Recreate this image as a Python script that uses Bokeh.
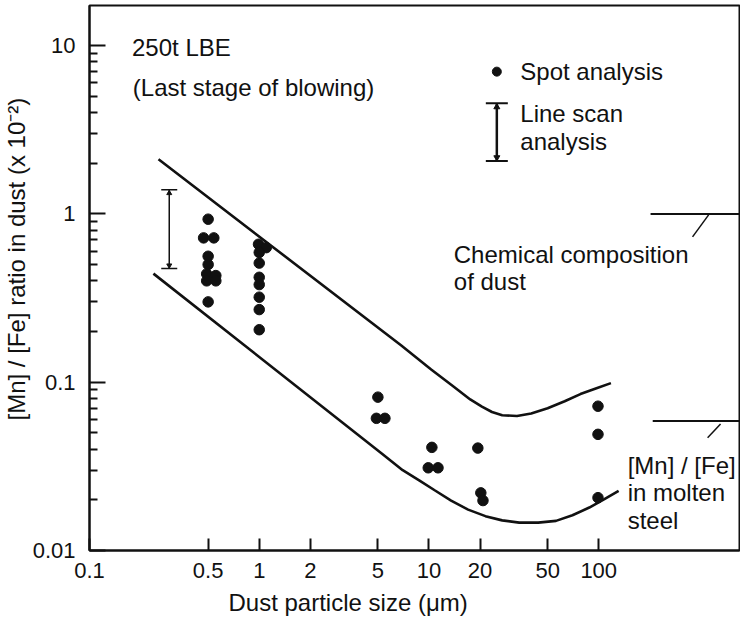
from bokeh.plotting import figure
from bokeh.models import Label, Title, FixedTicker, Range1d, Whisker, ColumnDataSource, TeeHead, CustomJSTickFormatter
from bokeh.embed import file_html
from bokeh.resources import INLINE

# ---- axis ticks ----
x_ticks = [0.1, 0.5, 1, 2, 5, 10, 20, 50, 100]
y_ticks = [0.01, 0.1, 1, 10]
y_minor = [m * 10.0 ** d for d in (-2, -1, 0, 1) for m in range(2, 10)]

# ---- spot analysis (dust particle size um, [Mn]/[Fe] x1e-2) ----
spot_x = [0.50, 0.47, 0.54, 0.50, 0.50, 0.49, 0.555, 0.49, 0.555, 0.50,
          0.99, 1.10, 1.00, 1.00, 1.00, 1.00, 1.00, 1.00, 1.00,
          5.0, 4.9, 5.5,
          10.4, 9.9, 11.3,
          19.4, 20.2, 20.8,
          99.0, 99.0, 99.0]
spot_y = [0.93, 0.72, 0.72, 0.56, 0.50, 0.44, 0.43, 0.40, 0.40, 0.30,
          0.66, 0.63, 0.59, 0.51, 0.42, 0.38, 0.32, 0.27, 0.205,
          0.0815, 0.061, 0.061,
          0.041, 0.031, 0.031,
          0.0406, 0.022, 0.0198,
          0.072, 0.049, 0.0206]

# ---- envelope curves (chemical composition band) ----
upper_x = [0.255, 6.84, 10.3, 14.0, 17.5, 20.5, 23.5, 27.0, 33.0, 40.0, 50.0, 63.0, 78.0, 97.0, 118]
upper_y = [2.11, 0.1656, 0.119, 0.094, 0.079, 0.0715, 0.0665, 0.0636, 0.0630, 0.0652, 0.0700, 0.0770, 0.0850, 0.0920, 0.0987]
lower_x = [0.238, 5.22, 7.0, 8.8, 10.8, 13.5, 17.0, 21.5, 27.0, 34.0, 44.0, 56.0, 70.0, 88.0, 108, 131]
lower_y = [0.4416, 0.038, 0.0300, 0.0260, 0.0228, 0.0198, 0.0175, 0.0160, 0.0151, 0.01465, 0.01465, 0.0150, 0.0162, 0.0180, 0.0202, 0.0226]

# ---- line scan analysis ----
scan_x = [0.295]
scan_lo = [0.473]
scan_hi = [1.39]

# ---- legend symbols ----
leg_dot_x, leg_dot_y = [25.1], [7.0]
leg_bar_x, leg_bar_lo, leg_bar_hi = [25.1], [2.06], [4.54]

# ---- right-side reference marks ----
mark_x0 = [202, 208]
mark_x1 = [900, 900]
mark_y = [1.0, 0.0588]
slant_x0 = [357, 438]
slant_y0 = [0.73, 0.0467]
slant_x1 = [444, 522]
slant_y1 = [0.986, 0.0564]

FONT = "Liberation Sans"
INK = "#111111"

p = figure(width=740, height=622, x_axis_type="log", y_axis_type="log",
           x_range=Range1d(0.1, 675), y_range=Range1d(0.01, 17.3),
           output_backend="svg", toolbar_location=None,
           min_border_left=88, min_border_right=1, min_border_top=5, min_border_bottom=72)
p.background_fill_color = "white"
p.border_fill_color = "white"
p.grid.visible = False
p.outline_line_color = INK
p.outline_line_width = 2

fmt = CustomJSTickFormatter(code="return String(tick);")
p.xaxis.ticker = FixedTicker(ticks=x_ticks, minor_ticks=[])
p.yaxis.ticker = FixedTicker(ticks=y_ticks, minor_ticks=y_minor)
for ax in (p.xaxis[0], p.yaxis[0]):
    ax.formatter = fmt
    ax.axis_line_width = 2
    ax.axis_line_color = INK
    ax.major_tick_line_color = INK
    ax.major_tick_line_width = 2
    ax.minor_tick_line_color = INK
    ax.minor_tick_line_width = 2
    ax.major_tick_out = 0
    ax.minor_tick_out = 0
    ax.major_label_text_font = FONT
    ax.major_label_text_font_size = "22px"
    ax.major_label_text_color = INK
p.xaxis.major_tick_in = 12
p.xaxis.minor_tick_in = 0
p.xaxis.major_label_standoff = 12
p.yaxis.major_tick_in = 16
p.yaxis.minor_tick_in = 8
p.yaxis.major_label_standoff = 14

# axis titles (placed in side panels)
p.add_layout(Title(text="Dust particle size (μm)", align="left", offset=139,
                   text_font=FONT, text_font_size="24px", text_font_style="normal",
                   text_color=INK, standoff=12), "below")
p.add_layout(Title(text="[Mn] / [Fe] ratio in dust (x 10⁻²)", align="left", offset=130,
                   text_font=FONT, text_font_size="24px", text_font_style="normal",
                   text_color=INK, standoff=0), "left")

# curves
p.line(upper_x, upper_y, line_color=INK, line_width=2.6)
p.line(lower_x, lower_y, line_color=INK, line_width=2.6)

# spots
p.scatter(spot_x, spot_y, size=10.5, color=INK)

# line scan bar
src = ColumnDataSource(dict(x=scan_x, lo=scan_lo, hi=scan_hi))
p.add_layout(Whisker(base="x", lower="lo", upper="hi", source=src, dimension="height",
                     line_color=INK, line_width=1.5,
                     lower_head=TeeHead(size=16, line_color=INK, line_width=1.5),
                     upper_head=TeeHead(size=16, line_color=INK, line_width=1.5)))
p.scatter(scan_x, [v * 0.955 for v in scan_hi], marker="triangle", size=5, color=INK)
p.scatter(scan_x, [v * 1.045 for v in scan_lo], marker="inverted_triangle", size=5, color=INK)

# legend symbols
p.scatter(leg_dot_x, leg_dot_y, size=9, color=INK)
src2 = ColumnDataSource(dict(x=leg_bar_x, lo=leg_bar_lo, hi=leg_bar_hi))
p.add_layout(Whisker(base="x", lower="lo", upper="hi", source=src2, dimension="height",
                     line_color=INK, line_width=2.5,
                     lower_head=TeeHead(size=22, line_color=INK, line_width=2),
                     upper_head=TeeHead(size=22, line_color=INK, line_width=2)))
p.scatter(leg_bar_x, [v * 0.95 for v in leg_bar_hi], marker="triangle", size=6, color=INK)
p.scatter(leg_bar_x, [v * 1.05 for v in leg_bar_lo], marker="inverted_triangle", size=6, color=INK)

# right-side marks
p.segment(mark_x0, mark_y, mark_x1, mark_y, line_color=INK, line_width=2)
p.segment(slant_x0, slant_y0, slant_x1, slant_y1, line_color=INK, line_width=1.5)

def lab(x, y, t):
    p.add_layout(Label(x=x, y=y, text=t, text_font=FONT, text_font_size="24px",
                       text_color=INK, text_align="left", text_baseline="middle"))

lab(0.178, 9.73, "250t LBE")
lab(0.18, 5.64, "(Last stage of blowing)")
lab(34.5, 7.0, "Spot analysis")
lab(34.5, 3.96, "Line scan")
lab(34.5, 2.70, "analysis")
lab(14.0, 0.572, "Chemical composition")
lab(14.0, 0.396, "of dust")
lab(148, 0.0318, "[Mn] / [Fe]")
lab(148, 0.0220, "in molten")
lab(148, 0.0150, "steel")

open("out.html", "w").write(file_html(p, INLINE))
